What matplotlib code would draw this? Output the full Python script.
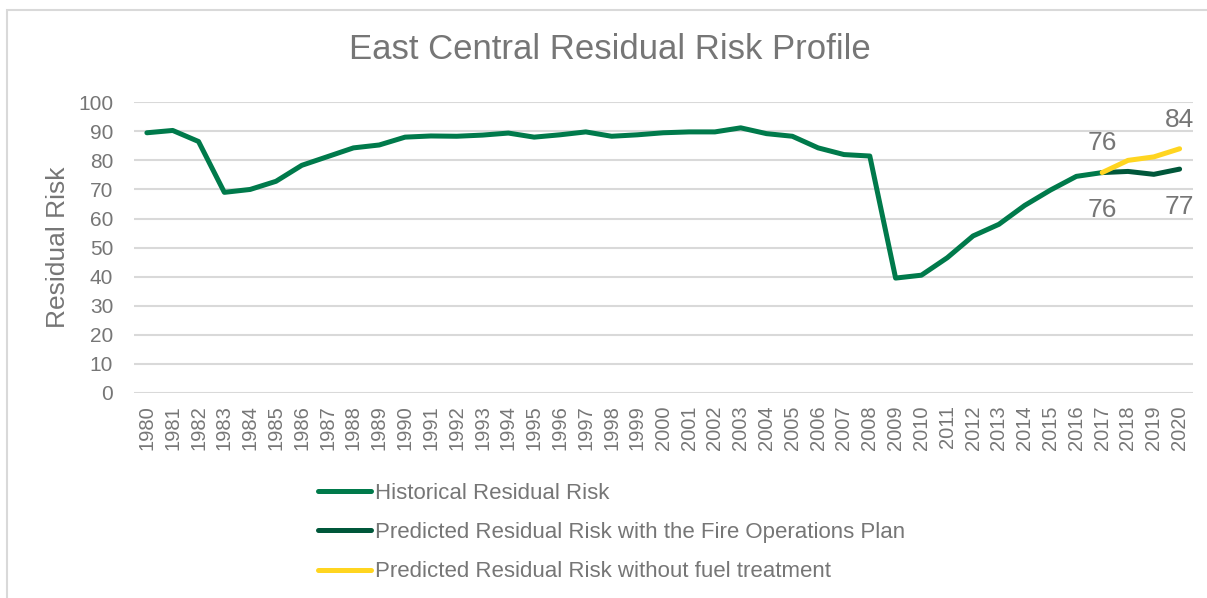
import matplotlib.pyplot as plt
from matplotlib.patches import Rectangle

plt.rcParams['font.family'] = ['Liberation Sans', 'DejaVu Sans']

years = list(range(1980, 2021))
historical = [89.5, 90.3, 86.5, 69.0, 70.0, 72.8, 78.3, 81.3, 84.3, 85.3, 88.0, 88.4,
              88.3, 88.7, 89.4, 88.0, 88.8, 89.8, 88.3, 88.8, 89.5, 89.8, 89.8, 91.2,
              89.2, 88.3, 84.3, 82.0, 81.5, 39.5, 40.5, 46.5, 54.0, 58.0, 64.5, 69.8,
              74.5, 75.8]
pred_years = [2017, 2018, 2019, 2020]
with_plan = [75.8, 76.2, 75.2, 77.0]
without_treatment = [75.8, 80.0, 81.2, 84.0]

grey = '#767676'
green = '#007A4B'
dark_green = '#00573A'
yellow = '#FFD520'

fig = plt.figure(figsize=(12.07, 5.98), dpi=100)
ax = fig.add_axes([0.111, 0.343, 0.877, 0.486])

ax.plot(years[:len(historical)], historical, color=green, lw=3.6,
        solid_capstyle='round', label='Historical Residual Risk')
ax.plot(pred_years, with_plan, color=dark_green, lw=3.6, solid_capstyle='round',
        label='Predicted Residual Risk with the Fire Operations Plan')
ax.plot(pred_years, without_treatment, color=yellow, lw=3.6, solid_capstyle='round',
        label='Predicted Residual Risk without fuel treatment')

# data labels at the ends of the predicted series
for i in (0, -1):
    ax.annotate(f'{without_treatment[i]:.0f}', (pred_years[i], without_treatment[i]),
                xytext=(0, 21), textcoords='offset points', ha='center', va='center',
                fontsize=19, color=grey)
    ax.annotate(f'{with_plan[i]:.0f}', (pred_years[i], with_plan[i]),
                xytext=(0, -27), textcoords='offset points', ha='center', va='center',
                fontsize=19, color=grey)

ax.set_xlim(1979.5, 2020.5)
ax.set_ylim(0, 100)
ax.set_yticks(range(0, 101, 10))
ax.set_xticks(years)
ax.set_xticklabels([str(y) for y in years], rotation=90)
ax.tick_params(axis='x', length=0, pad=9, labelsize=14.5, labelcolor=grey)
ax.tick_params(axis='y', length=0, pad=15, labelsize=15, labelcolor=grey)
ax.grid(axis='y', color='#D9D9D9', lw=1.5)
ax.set_axisbelow(True)
for s in ax.spines.values():
    s.set_visible(False)

ax.set_ylabel('Residual Risk', fontsize=19, color=grey, labelpad=6)
fig.suptitle('East Central Residual Risk Profile', x=0.505, y=0.945,
             fontsize=25, color=grey)

leg = fig.legend(loc='upper left', bbox_to_anchor=(318 / 1207, 1 - 483 / 598),
                 frameon=False, fontsize=16, handlelength=2.4, handletextpad=0.15,
                 labelspacing=0.82, borderpad=0, borderaxespad=0)
for t in leg.get_texts():
    t.set_color(grey)

# light outer chart border
fig.patches.append(Rectangle((7 / 1207, -0.05), 1.2, 1 - 10 / 598 + 0.05,
                             transform=fig.transFigure, fill=False,
                             edgecolor='#D9D9D9', lw=1.5))

fig.savefig('out.png', dpi=100)
